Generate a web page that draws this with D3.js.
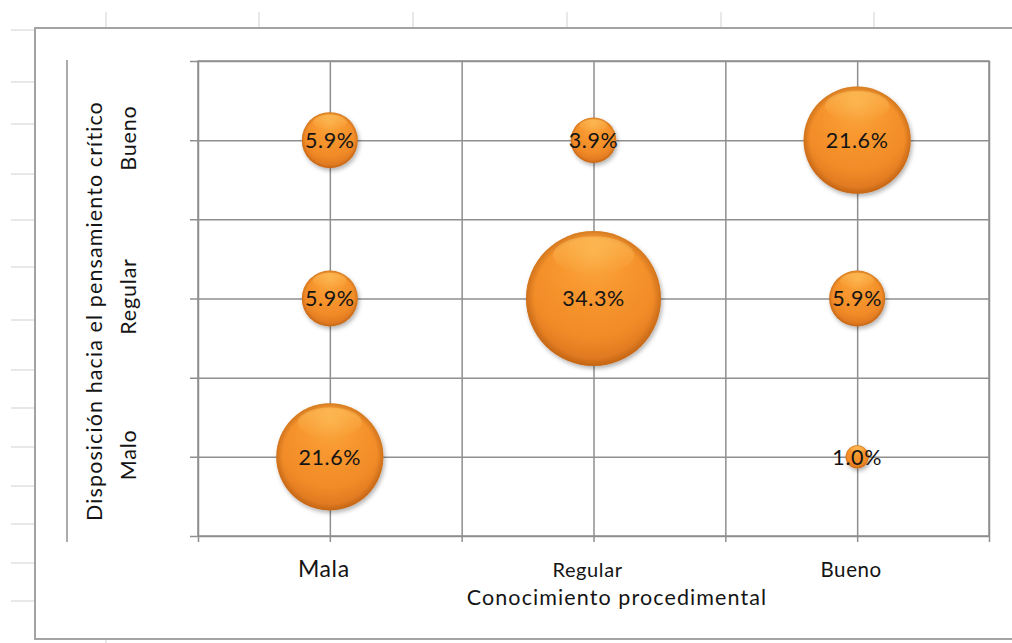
<!DOCTYPE html>
<html>
<head>
<meta charset="utf-8">
<script src="https://cdn.jsdelivr.net/npm/d3@7"></script>
<style>
  html, body { margin: 0; padding: 0; background: #fff; }
  svg { display: block; font-family: Lato, "Open Sans", sans-serif; }
</style>
</head>
<body>
<svg id="chart" width="1012" height="643"></svg>
<script>
// ---- data ----
const xCategories = ["Mala", "Regular", "Bueno"];
const yCategories = ["Malo", "Regular", "Bueno"];
const pointX = ["Mala", "Regular", "Bueno", "Mala", "Regular", "Bueno", "Mala", "Bueno"];
const pointY = ["Bueno", "Bueno", "Bueno", "Regular", "Regular", "Regular", "Malo", "Malo"];
const pointValues = [5.9, 3.9, 21.6, 5.9, 34.3, 5.9, 21.6, 1.0];
const gridTicks = [0, 0.5, 1, 1.5, 2, 2.5, 3];
const xAxisTitle = "Conocimiento procedimental";
const yAxisTitle = "Disposición hacia el pensamiento crítico";

(function () {
const svg = d3.select("#chart");

// ---- spreadsheet background ----
const sheetCols = [106, 259, 413, 567, 721, 874];
const sheetRows = [30, 82, 124, 174, 220, 267, 320, 370, 408, 447, 486, 524, 563, 601];
const bg = svg.append("g").attr("stroke", "#e0e0e0").attr("stroke-width", 1.5);
bg.selectAll("line.c").data(sheetCols).join("line").attr("class", "c")
  .attr("x1", d => d).attr("x2", d => d).attr("y1", 12).attr("y2", 28);
bg.selectAll("line.r").data(sheetRows).join("line").attr("class", "r")
  .attr("x1", 11).attr("x2", 35).attr("y1", d => d).attr("y2", d => d);
bg.append("line").attr("x1", 106).attr("x2", 106).attr("y1", 640).attr("y2", 643);

// chart area border
svg.append("rect").attr("x", 35).attr("y", 28).attr("width", 990).attr("height", 611)
  .attr("fill", "#fff").attr("stroke", "#a3a3a3").attr("stroke-width", 2);

// ---- plot ----
const pL = 198, pR = 989, pT = 61, pB = 536;
const x = d3.scaleLinear().domain([0, 3]).range([pL, pR]);
const y = d3.scaleLinear().domain([0, 3]).range([pB, pT]);
const r = d3.scaleSqrt().domain([0, 34.3]).range([0, 67.5]);
const catPos = c => xCategories.indexOf(c) + 0.5;
const catPosY = c => yCategories.indexOf(c) + 0.5;

const gridColor = "#8f8f8f";
const gx = svg.append("g").attr("transform", `translate(0,${pB + 6})`)
  .call(d3.axisBottom(x).tickValues(gridTicks).tickSize(-(pB + 6 - pT)).tickFormat(""));
const gy = svg.append("g").attr("transform", `translate(${pL - 8},0)`)
  .call(d3.axisLeft(y).tickValues(gridTicks).tickSize(-(pR - pL + 8)).tickFormat(""));
[gx, gy].forEach(g => {
  g.select(".domain").remove();
  g.selectAll(".tick line").attr("stroke", gridColor).attr("stroke-width", 1.5);
});
svg.append("rect").attr("x", pL).attr("y", pT).attr("width", pR - pL).attr("height", pB - pT)
  .attr("fill", "none").attr("stroke", gridColor).attr("stroke-width", 1.5);

// left decorative line
svg.append("line").attr("x1", 67).attr("x2", 67).attr("y1", 60).attr("y2", 542)
  .attr("stroke", "#8f8f8f").attr("stroke-width", 1.5);

// ---- bubble style ----
const defs = svg.append("defs");
const lg = defs.append("radialGradient").attr("id", "ball")
  .attr("cx", "50%").attr("cy", "35%").attr("r", "65%").attr("fx", "50%").attr("fy", "15%");
lg.append("stop").attr("offset", "0%").attr("stop-color", "#fbab44");
lg.append("stop").attr("offset", "35%").attr("stop-color", "#f8982f");
lg.append("stop").attr("offset", "75%").attr("stop-color", "#f18b28");
lg.append("stop").attr("offset", "100%").attr("stop-color", "#da731d");
const rim = defs.append("radialGradient").attr("id", "rim").attr("r", "50%");
rim.append("stop").attr("offset", "88%").attr("stop-color", "#a0500c").attr("stop-opacity", 0);
rim.append("stop").attr("offset", "100%").attr("stop-color", "#a0500c").attr("stop-opacity", 0.4);
const hl = defs.append("linearGradient").attr("id", "hl").attr("x1", 0).attr("x2", 0).attr("y1", 0).attr("y2", 1);
hl.append("stop").attr("offset", "0%").attr("stop-color", "#ffd070").attr("stop-opacity", 0.45);
hl.append("stop").attr("offset", "100%").attr("stop-color", "#ffd070").attr("stop-opacity", 0);
const sh = defs.append("filter").attr("id", "shadow").attr("x", "-30%").attr("y", "-30%").attr("width", "160%").attr("height", "160%");
sh.append("feDropShadow").attr("dx", 1.5).attr("dy", 2.5).attr("stdDeviation", 2)
  .attr("flood-color", "#000").attr("flood-opacity", 0.3);

const points = pointValues.map((v, i) => ({ v, cx: x(catPos(pointX[i])), cy: y(catPosY(pointY[i])) }));
const bubbles = svg.append("g").selectAll("g").data(points).join("g")
  .attr("transform", d => `translate(${d.cx},${d.cy})`);
bubbles.append("circle").attr("r", d => r(d.v)).attr("fill", "url(#ball)").attr("filter", "url(#shadow)");
bubbles.append("circle").attr("r", d => r(d.v)).attr("fill", "url(#rim)");
bubbles.append("ellipse").attr("cy", d => -r(d.v) * 0.64).attr("rx", d => r(d.v) * 0.6).attr("ry", d => r(d.v) * 0.28)
  .attr("fill", "url(#hl)");
bubbles.append("text").attr("x", 0).attr("text-anchor", "middle").attr("dy", "0.36em")
  .attr("font-size", 21.5).attr("fill", "#141414").attr("letter-spacing", 0.6)
  .text(d => d.v.toFixed(1) + "%");

// ---- axis category labels (x) ----
const xLabelSizes = [23, 20, 20.5];
svg.append("g").selectAll("text").data(xCategories).join("text")
  .attr("x", (d, i) => x(i + 0.5) - 6).attr("y", 577)
  .attr("text-anchor", "middle").attr("font-size", (d, i) => xLabelSizes[i]).attr("fill", "#141414")
  .attr("letter-spacing", 0.6)
  .text(d => d);
svg.append("text").attr("x", 617).attr("y", 605).attr("text-anchor", "middle")
  .attr("font-size", 21.5).attr("fill", "#141414").attr("letter-spacing", 1.1).text(xAxisTitle);

// ---- y title (rotated) ----
svg.append("text").attr("transform", "translate(102,311) rotate(-90)").attr("text-anchor", "middle")
  .attr("font-size", 21.5).attr("fill", "#141414").attr("letter-spacing", 1.1).text(yAxisTitle);
svg.append("g").selectAll("text").data(yCategories).join("text")
  .attr("transform", (d, i) => `translate(136,${y(i + 0.5) - 2}) rotate(-90)`)
  .attr("text-anchor", "middle").attr("font-size", 21.5).attr("fill", "#141414").attr("letter-spacing", 0.8)
  .text(d => d);
})();
</script>
</body>
</html>
